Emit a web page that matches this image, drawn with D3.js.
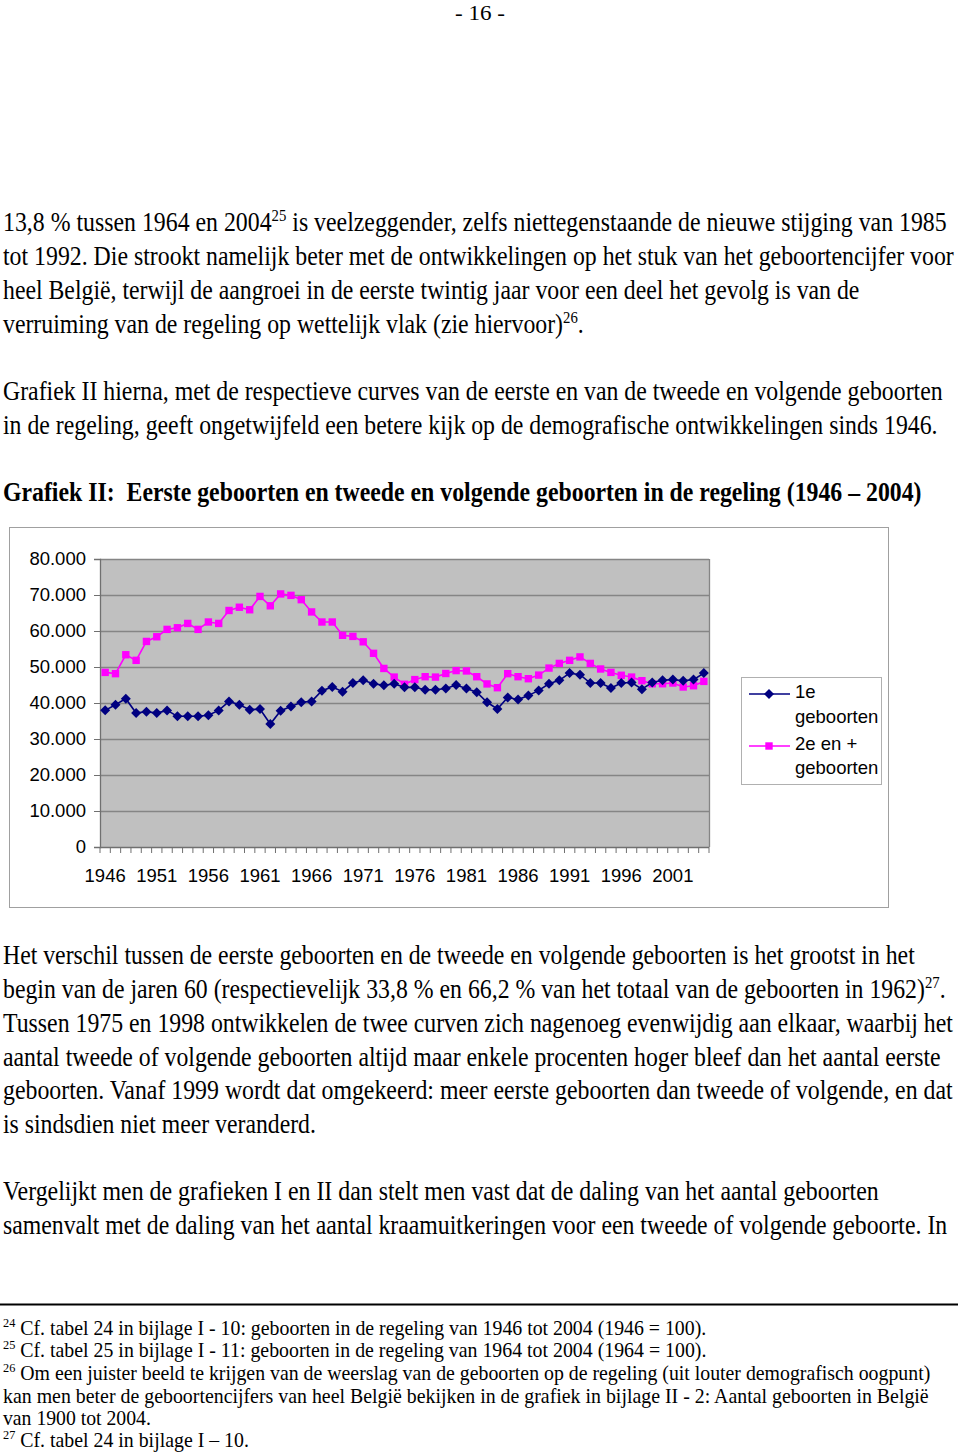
<!DOCTYPE html>
<html><head><meta charset="utf-8">
<script src="https://cdn.jsdelivr.net/npm/d3@7"></script>
<style>body{margin:0;background:#fff} svg{display:block}</style>
</head><body>
<script>
// ---- data ----
const years = [1946,1947,1948,1949,1950,1951,1952,1953,1954,1955,1956,1957,1958,1959,1960,
  1961,1962,1963,1964,1965,1966,1967,1968,1969,1970,1971,1972,1973,1974,1975,
  1976,1977,1978,1979,1980,1981,1982,1983,1984,1985,1986,1987,1988,1989,1990,
  1991,1992,1993,1994,1995,1996,1997,1998,1999,2000,2001,2002,2003,2004];
const firstBirths = [37960,39500,41200,37200,37600,37200,37950,36300,36300,36300,36600,37950,40450,39500,38150,
  38300,34150,37850,39050,40200,40450,43400,44450,43150,45550,46300,45350,44900,45350,44350,
  44350,43700,43700,44050,45000,44050,43000,40200,38350,41550,40950,42050,43500,45350,46300,
  48300,47850,45550,45550,44150,45550,45700,43850,45700,46300,46500,46200,46500,48300];
const laterBirths = [48500,48150,53400,51850,57100,58400,60450,60900,62100,60450,62500,62100,65700,66600,65900,
  69600,67000,70300,69900,68700,65300,62500,62500,58800,58500,57000,53800,49600,47200,45200,
  46500,47300,47200,48200,49000,48900,47300,45300,44250,48150,47300,46750,47750,49700,51000,
  51850,52800,51000,49450,48500,47700,47200,46200,45350,45350,45550,44450,44800,46000];
const yTicks = [0,10000,20000,30000,40000,50000,60000,70000,80000];
const yTickLabels = ["0","10.000","20.000","30.000","40.000","50.000","60.000","70.000","80.000"];
const xTickLabels = ["1946","1951","1956","1961","1966","1971","1976","1981","1986","1991","1996","2001"];
const seriesNames = [["1e","geboorten"],["2e en +","geboorten"]];

const W = 960, H = 1455;
const svg = d3.select("body").append("svg").attr("width", W).attr("height", H);

// ---- body text ----
const serif = "'Liberation Serif','Times New Roman',serif";
function textLine(x, y, right, parts, size, bold) {
  const t = svg.append("text").attr("font-family", serif).attr("font-size", size)
    .attr("font-weight", bold ? "bold" : "normal").attr("fill", "#000")
    .style("white-space", "pre");
  let raised = false;
  parts.forEach(p => {
    if (typeof p === "string") {
      const ts = t.append("tspan").text(p);
      if (raised) { ts.attr("dy", size * 0.38); raised = false; }
    } else {
      t.append("tspan").attr("dy", -size * 0.38).attr("font-size", size * 0.62).text(p.sup);
      raised = true;
    }
  });
  const w = t.node().getBBox().width;
  const s = (right - x) / w;
  t.attr("transform", `translate(${x},${y}) scale(${s},1)`);
}
textLine(455, 20, 505, ["- 16 -"], 22, false);
const body = [
  [231, 3, 947, ["13,8 % tussen 1964 en 2004", {sup:"25"}, " is veelzeggender, zelfs niettegenstaande de nieuwe stijging van 1985"]],
  [265, 3, 954, ["tot 1992. Die strookt namelijk beter met de ontwikkelingen op het stuk van het geboortencijfer voor"]],
  [299, 3, 860, ["heel België, terwijl de aangroei in de eerste twintig jaar voor een deel het gevolg is van de"]],
  [333, 3, 584, ["verruiming van de regeling op wettelijk vlak (zie hiervoor)", {sup:"26"}, "."]],
  [400, 3, 943, ["Grafiek II hierna, met de respectieve curves van de eerste en van de tweede en volgende geboorten"]],
  [434, 3, 938, ["in de regeling, geeft ongetwijfeld een betere kijk op de demografische ontwikkelingen sinds 1946."]],
  [964, 3, 916, ["Het verschil tussen de eerste geboorten en de tweede en volgende geboorten is het grootst in het"]],
  [998, 3, 946, ["begin van de jaren 60 (respectievelijk 33,8 % en 66,2 % van het totaal van de geboorten in 1962)", {sup:"27"}, "."]],
  [1032, 3, 954, ["Tussen 1975 en 1998 ontwikkelen de twee curven zich nagenoeg evenwijdig aan elkaar, waarbij het"]],
  [1066, 3, 941, ["aantal tweede of volgende geboorten altijd maar enkele procenten hoger bleef dan het aantal eerste"]],
  [1099, 3, 954, ["geboorten. Vanaf 1999 wordt dat omgekeerd: meer eerste geboorten dan tweede of volgende, en dat"]],
  [1133, 3, 316, ["is sindsdien niet meer veranderd."]],
  [1200, 3, 879, ["Vergelijkt men de grafieken I en II dan stelt men vast dat de daling van het aantal geboorten"]],
  [1234, 3, 948, ["samenvalt met de daling van het aantal kraamuitkeringen voor een tweede of volgende geboorte. In"]]
];
body.forEach(b => textLine(b[1], b[0], b[2], b[3], 26.5, false));
textLine(3, 501, 922, ["Grafiek II:  Eerste geboorten en tweede en volgende geboorten in de regeling (1946 – 2004)"], 26.5, true);

const notes = [
  [1335, 707, [{sup:"24"}, " Cf. tabel 24 in bijlage I - 10: geboorten in de regeling van 1946 tot 2004 (1946 = 100)."]],
  [1357, 707, [{sup:"25"}, " Cf. tabel 25 in bijlage I - 11: geboorten in de regeling van 1964 tot 2004 (1964 = 100)."]],
  [1380, 931, [{sup:"26"}, " Om een juister beeld te krijgen van de weerslag van de geboorten op de regeling (uit louter demografisch oogpunt)"]],
  [1403, 929, ["kan men beter de geboortencijfers van heel België bekijken in de grafiek in bijlage II - 2: Aantal geboorten in België"]],
  [1425, 151, ["van 1900 tot 2004."]],
  [1447, 249, [{sup:"27"}, " Cf. tabel 24 in bijlage I – 10."]]
];
notes.forEach(n => textLine(3, n[0], n[1], n[2], 21, false));
svg.append("line").attr("x1", 0).attr("x2", 958).attr("y1", 1304.5).attr("y2", 1304.5)
  .attr("stroke", "#000").attr("stroke-width", 1.8);

// ---- chart ----
const sans = "'Liberation Sans',Arial,sans-serif";
svg.append("rect").attr("x", 9.5).attr("y", 527.5).attr("width", 879).attr("height", 380)
  .attr("fill", "#fff").attr("stroke", "#a0a0a0").attr("stroke-width", 1);

const pl = 100, pr = 709, pt = 559, pb = 847;
const x = d3.scaleBand().domain(years).range([pl, pr]);
const y = d3.scaleLinear().domain([0, 80000]).range([pb, pt]);

svg.append("rect").attr("x", pl).attr("y", pt).attr("width", pr - pl).attr("height", pb - pt)
  .attr("fill", "#c0c0c0");
svg.append("g").selectAll("line").data(yTicks.slice(1)).join("line")
  .attr("x1", pl).attr("x2", pr).attr("y1", d => Math.round(y(d)) + 0.5).attr("y2", d => Math.round(y(d)) + 0.5)
  .attr("stroke", "#858585").attr("stroke-width", 1.3);
svg.append("line").attr("x1", pr + 0.5).attr("x2", pr + 0.5).attr("y1", pt).attr("y2", pb)
  .attr("stroke", "#858585").attr("stroke-width", 1.3);

// y axis
const yAxis = d3.axisLeft(y).tickValues(yTicks).tickSize(6).tickPadding(8)
  .tickFormat((d, i) => yTickLabels[i]);
const gy = svg.append("g").attr("transform", `translate(${pl},0)`).call(yAxis);
gy.select(".domain").attr("stroke", "#707070").attr("stroke-width", 1.3);
gy.selectAll(".tick line").attr("stroke", "#707070");
gy.selectAll(".tick text").attr("font-family", sans).attr("font-size", 18.5).attr("fill", "#000").attr("x", -14);

// x axis: ticks at category boundaries
const gx = svg.append("g").attr("transform", `translate(0,${pb})`);
gx.append("line").attr("x1", pl).attr("x2", pr).attr("y1", 0.5).attr("y2", 0.5)
  .attr("stroke", "#707070").attr("stroke-width", 1.3);
gx.selectAll("line.tk").data(years.concat([null])).join("line").attr("class", "tk")
  .attr("x1", (d, i) => pl + i * x.step()).attr("x2", (d, i) => pl + i * x.step())
  .attr("y1", 0).attr("y2", 6).attr("stroke", "#707070");
gx.selectAll("text").data(xTickLabels).join("text")
  .attr("x", d => x(+d) + x.bandwidth() / 2).attr("y", 34.5)
  .attr("text-anchor", "middle").attr("font-family", sans).attr("font-size", 18.5).attr("fill", "#000")
  .text(d => d);

// series
const cx = (d, i) => x(years[i]) + x.bandwidth() / 2;
const line = d3.line().x((d, i) => cx(d, i)).y(d => y(d));
const diamond = "M0,-5L5,0L0,5L-5,0Z";
const square = "M-3.7,-3.7H3.7V3.7H-3.7Z";

svg.append("path").datum(laterBirths).attr("d", line).attr("fill", "none")
  .attr("stroke", "#ff00ff").attr("stroke-width", 1.6);
svg.append("g").selectAll("path").data(laterBirths).join("path")
  .attr("d", square).attr("fill", "#ff00ff")
  .attr("transform", (d, i) => `translate(${cx(d, i)},${y(d)})`);

svg.append("path").datum(firstBirths).attr("d", line).attr("fill", "none")
  .attr("stroke", "#000080").attr("stroke-width", 1.6);
svg.append("g").selectAll("path").data(firstBirths).join("path")
  .attr("d", diamond).attr("fill", "#000080")
  .attr("transform", (d, i) => `translate(${cx(d, i)},${y(d)})`);

// legend
const lg = svg.append("g");
lg.append("rect").attr("x", 741.5).attr("y", 677.5).attr("width", 140).attr("height", 107)
  .attr("fill", "#fff").attr("stroke", "#b0b0b0");
const legendRows = [
  {color: "#000080", shape: diamond, ly: 694, lines: [[698, seriesNames[0][0]], [723, seriesNames[0][1]]]},
  {color: "#ff00ff", shape: square, ly: 746, lines: [[750, seriesNames[1][0]], [774, seriesNames[1][1]]]}
];
legendRows.forEach(r => {
  lg.append("line").attr("x1", 749).attr("x2", 790).attr("y1", r.ly).attr("y2", r.ly)
    .attr("stroke", r.color).attr("stroke-width", 1.6);
  lg.append("path").attr("d", r.shape).attr("fill", r.color).attr("transform", `translate(769,${r.ly})`);
  r.lines.forEach(l => lg.append("text").attr("x", 795).attr("y", l[0]).attr("font-family", sans)
    .attr("font-size", 18.5).attr("fill", "#000").text(l[1]));
});
</script>
</body></html>
